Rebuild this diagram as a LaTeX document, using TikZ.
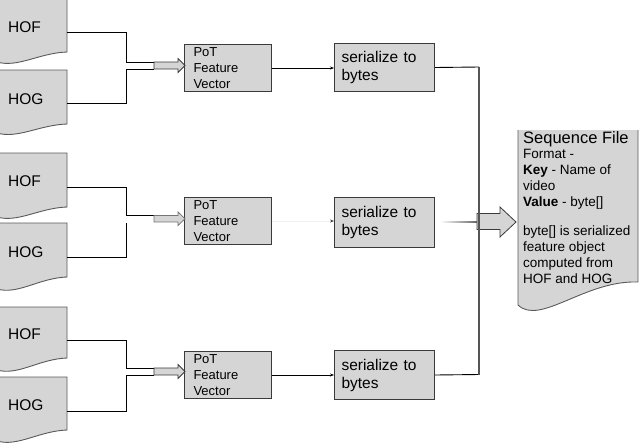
\documentclass[tikz,border=0pt]{standalone}
\usepackage{fontspec}
\setmainfont{Liberation Sans}
\usetikzlibrary{arrows.meta}
\definecolor{fillg}{HTML}{D5D5D5}
\definecolor{lineg}{HTML}{3A3A3A}
\definecolor{docline}{HTML}{5A5A5A}
\definecolor{busg}{HTML}{555555}
\newcommand{\drawdoc}[5]{%
  \pgfmathsetmacro{\dca}{#1+0.3*(#2-#1)}%
  \pgfmathsetmacro{\dcb}{#4+6}%
  \pgfmathsetmacro{\dcc}{#1+0.6*(#2-#1)}%
  \pgfmathsetmacro{\dcd}{#5+1}%
  \draw[docshape] (#1,#3) -- (#1,#4) .. controls (\dca,\dcb) and (\dcc,\dcd) .. (#2,#5) -- (#2,#3) -- cycle;}
\begin{document}
\begin{tikzpicture}[x=1pt,y=-1pt,
  docshape/.style={draw=docline, fill=fillg, line width=0.9pt},
  doclabel/.style={anchor=base west, inner sep=0pt, font=\fontsize{15.5}{18}\selectfont},
  potbox/.style={draw=lineg, fill=fillg, line width=1pt, anchor=north west, minimum width=87pt, minimum height=47pt, text width=69pt, inner xsep=9pt, inner ysep=0pt, align=left, font=\fontsize{13}{16}\selectfont},
  serbox/.style={draw=lineg, fill=fillg, line width=1pt, anchor=north west, minimum width=100pt, minimum height=48pt, text width=86pt, inner xsep=7pt, inner ysep=0pt, align=left, font=\fontsize{15.5}{18}\selectfont},
  conn/.style={draw=black, line width=0.9pt},
  tipconn/.style={conn, -{Stealth[length=4pt,width=3pt]}},
  blockar/.style={draw=lineg, fill=fillg, line width=0.8pt, line join=miter},
  bus/.style={draw=busg, line width=1.8pt},
  seqline/.style={anchor=base west, inner sep=0pt, font=\fontsize{13.5}{16}\selectfont}
]
\useasboundingbox (0,0) rectangle (640,445);

% input documents
\drawdoc{-3}{67}{-5}{62}{52}
\drawdoc{-3}{67}{70}{133}{124}
\drawdoc{-3}{67}{153}{217}{207}
\drawdoc{-3}{67}{223}{289}{277}
\drawdoc{-3}{67}{307}{370}{358}
\drawdoc{-3}{67}{377}{441}{430}
\node[doclabel] (hof1) at (8,32) {HOF};
\node[doclabel] (hog1) at (8,104) {HOG};
\node[doclabel] (hof2) at (8,186.5) {HOF};
\node[doclabel] (hog2) at (8,257) {HOG};
\node[doclabel] (hof3) at (8,339.5) {HOF};
\node[doclabel] (hog3) at (8,410.5) {HOG};

% PoT boxes
\node[potbox] (pot1) at (184,44) {PoT\\Feature\\Vector};
\node[potbox] (pot2) at (184,197) {PoT\\Feature\\Vector};
\node[potbox] (pot3) at (184,351) {PoT\\Feature\\Vector};

% serialize boxes
\node[serbox] (ser1) at (334,43) {serialize to\\bytes};
\node[serbox, minimum height=50pt] (ser2) at (334,197) {serialize to\\bytes};
\node[serbox, minimum height=49pt] (ser3) at (334,350) {serialize to\\bytes};

% coordinates
\coordinate (hof1o) at (67,32);  \coordinate (hog1o) at (67,103);
\coordinate (m1a) at (126,62);   \coordinate (m1b) at (126,69);
\coordinate (a1a) at (154,62);   \coordinate (a1b) at (154,69);
\coordinate (hof2o) at (67,187); \coordinate (hog2o) at (67,257);
\coordinate (m2a) at (126,215.5);\coordinate (m2b) at (126,223);
\coordinate (a2a) at (154,215.5);\coordinate (a2b) at (154,222);
\coordinate (hof3o) at (67,340); \coordinate (hog3o) at (67,411);
\coordinate (m3a) at (126,368);  \coordinate (m3b) at (126,375);
\coordinate (a3a) at (154,368);  \coordinate (a3b) at (154,375);

% group 1 merge
\draw[conn] (hof1o) -| (m1a) -- (a1a);
\draw[conn] (hog1o) -| (m1b) -- (a1b);
\draw[blockar] (a1a) -- (178,62) -- (178,58.5) -- (185,65.5) -- (178,72.5) -- (178,69) -- (a1b) -- cycle;
% group 2 merge
\draw[conn] (hof2o) -| (m2a) -- (a2a);
\draw[conn] (hog2o) -| (m2b);
\draw[blockar, draw=lineg!70] (a2a) -- (178,215.5) -- (178,212) -- (185,218.75) -- (178,225.5) -- (178,222) -- (a2b) -- cycle;
% group 3 merge
\draw[conn] (hof3o) -| (m3a) -- (a3a);
\draw[conn] (hog3o) -| (m3b) -- (a3b);
\draw[blockar] (a3a) -- (178,368) -- (178,364.5) -- (185,371.5) -- (178,378.5) -- (178,375) -- (a3b) -- cycle;

% PoT -> serialize
\draw[tipconn] (pot1.east) -- (pot1.east -| ser1.west);
\draw[conn, draw=black!6, -{Stealth[length=4pt,width=3pt,color=black!75]}] (pot2.east) -- (pot2.east -| ser2.west);
\draw[tipconn] (pot3.east) -- (pot3.east -| ser3.west);

% sequence file document
\fill[fillg] (518,130) -- (518,305) .. controls (540,326) and (585,280) .. (638,282) -- (638,130) -- cycle;
\draw[docline, line width=0.9pt] (518,130) -- (518,305) .. controls (540,326) and (585,280) .. (638,282) -- (638,130);

% serialize -> bus -> sequence file
\coordinate (bustop) at (479,67);
\coordinate (busbot) at (479,374.5);
\shade[left color=white, right color=black!60] (440,221.3) rectangle (477,222.9);
\draw[blockar] (477,213.5) -- (500,213.5) -- (500,207) -- (516,222) -- (500,237) -- (500,229.5) -- (477,229.5) -- cycle;
\draw[conn] (ser1.east) -- (bustop);
\draw[conn] (ser3.east) -- (busbot);
\draw[bus] (bustop) -- (busbot);

\node[seqline, font=\fontsize{16.5}{18}\selectfont] (seqt) at (523,143) {Sequence File};
\node[seqline] (seq1) at (523,158) {Format -};
\node[seqline] (seq2) at (523,174) {\textbf{Key} - Name of};
\node[seqline] (seq3) at (523,190) {video};
\node[seqline] (seq4) at (523,206) {\textbf{Value} - byte[]};
\node[seqline] (seq5) at (523,235) {byte[] is serialized};
\node[seqline] (seq6) at (523,251) {feature object};
\node[seqline] (seq7) at (523,267) {computed from};
\node[seqline] (seq8) at (523,283) {HOF and HOG};
\end{tikzpicture}
\end{document}
